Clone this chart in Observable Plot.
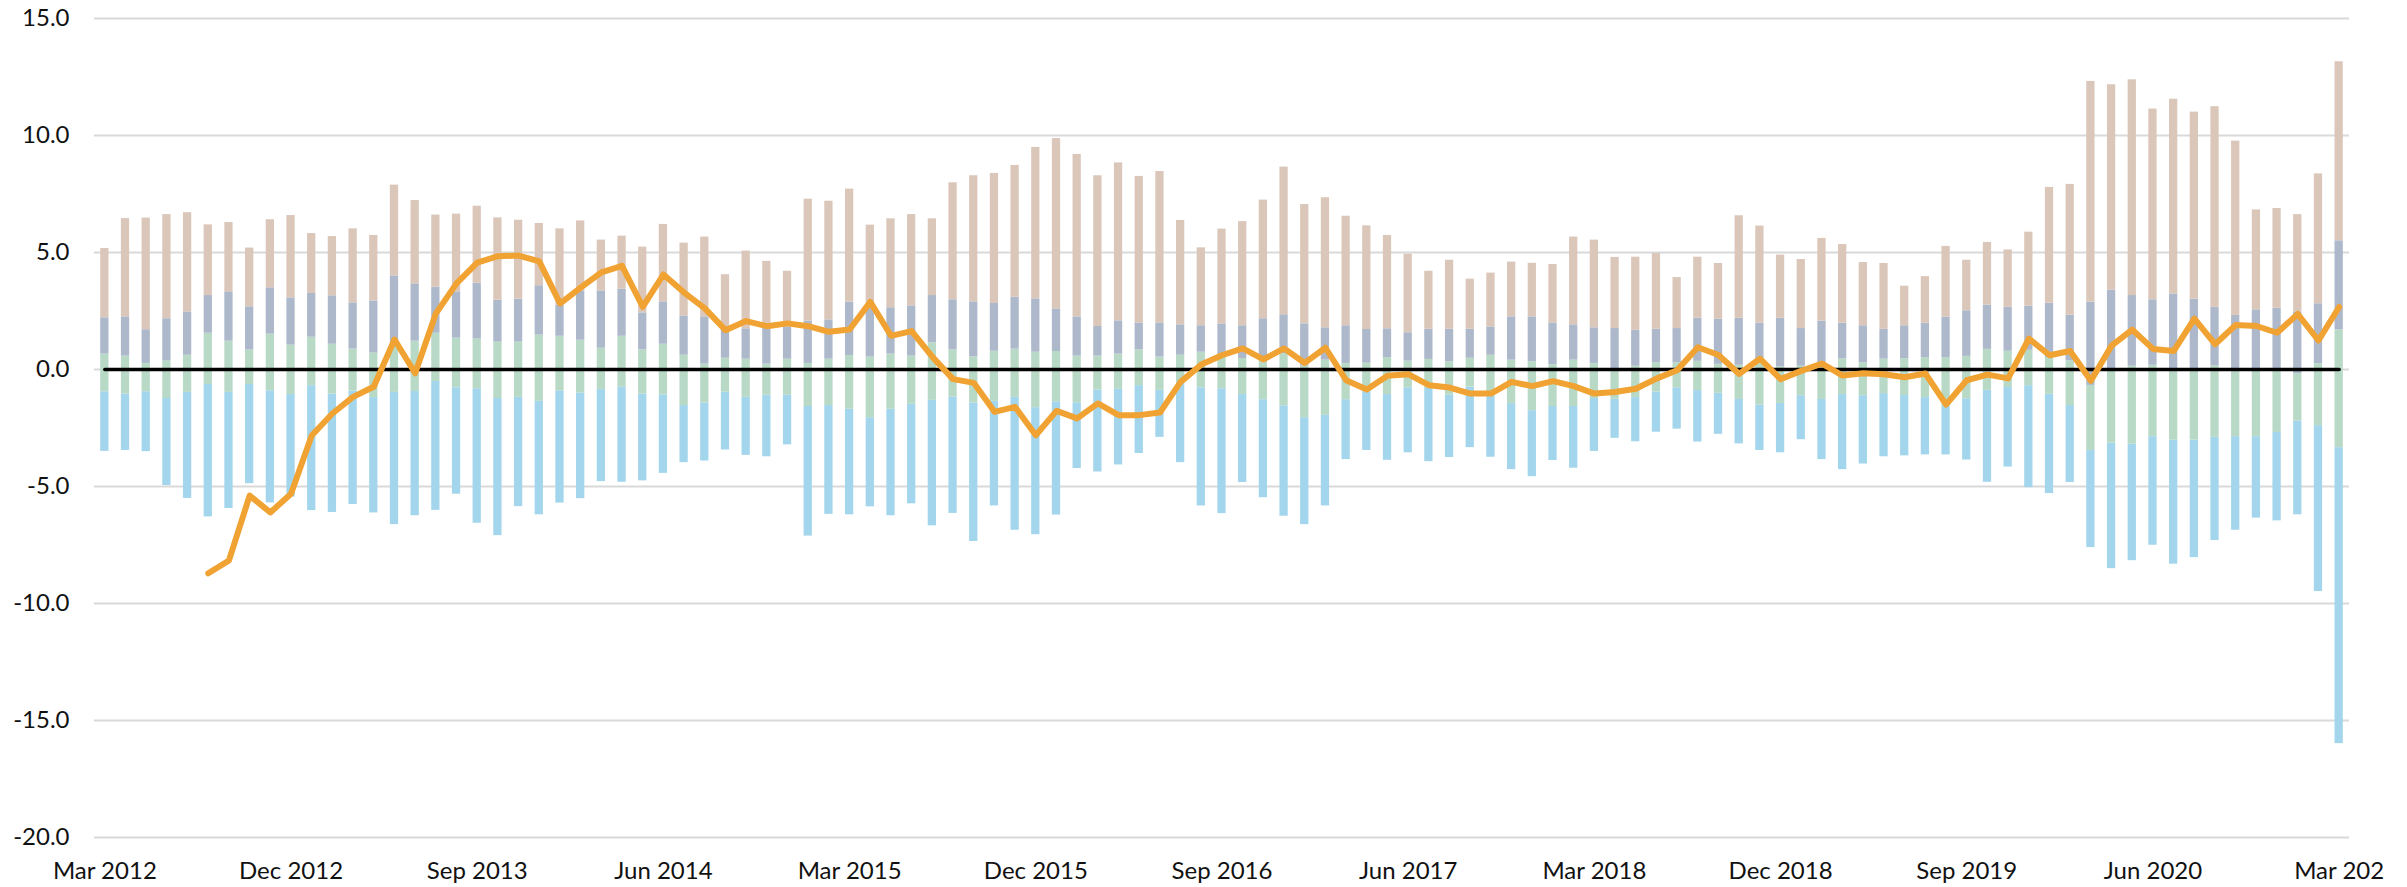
<!DOCTYPE html>
<html>
<head>
<meta charset="utf-8">
<script src="https://cdn.jsdelivr.net/npm/d3@7"></script>
<script src="https://cdn.jsdelivr.net/npm/@observablehq/plot@0.6"></script>
<style>
  html, body { margin: 0; padding: 0; background: #ffffff; }
  #chart { width: 2407px; height: 887px; overflow: hidden; }
</style>
</head>
<body>
<div id="chart"></div>
<script>
// Months Mar 2012 .. Mar 2021 (categories)
const months = d3.utcMonths(new Date(Date.UTC(2012, 2, 1)), new Date(Date.UTC(2021, 3, 1)))
  .map(d => d3.utcFormat("%Y-%m")(d));

// Labelled months and their text
const xTickMonths = ["2012-03","2012-12","2013-09","2014-06","2015-03","2015-12","2016-09",
                     "2017-06","2018-03","2018-12","2019-09","2020-06","2021-03"];
const xTickLabels = ["Mar 2012","Dec 2012","Sep 2013","Jun 2014","Mar 2015","Dec 2015","Sep 2016",
                     "Jun 2017","Mar 2018","Dec 2018","Sep 2019","Jun 2020","Mar 202"];
const yTicks = [-20, -15, -10, -5, 0, 5, 10, 15];

// Stack levels (bottom to top of each column)
const lightBlueBottom = [
  -3.50,-3.46,-3.51,-4.96,-5.51,-6.30,-5.94,-4.88,-5.70,-5.45,-6.03,-6.11,-5.77,-6.13,-6.63,-6.25,-6.02,-5.33,
  -6.57,-7.10,-5.86,-6.21,-5.71,-5.52,-4.79,-4.82,-4.76,-4.44,-3.98,-3.91,-3.44,-3.67,-3.73,-3.22,
  -7.12,-6.19,-6.21,-5.87,-6.25,-5.74,-6.68,-6.15,-7.35,-5.83,-6.87,-7.06,-6.22,-4.23,-4.38,-4.08,-3.59,-2.90,
  -3.98,-5.83,-6.16,-4.83,-5.48,-6.27,-6.63,-5.83,-3.85,-3.46,-3.88,-3.56,-3.94,-3.76,-3.34,-3.75,-4.28,-4.58,
  -3.89,-4.22,-3.50,
  -2.94,-3.09,-2.68,-2.55,-3.10,-2.77,-3.18,-3.46,-3.56,-3.00,-3.85,-4.28,-4.04,-3.73,-3.69,-3.65,-3.65,-3.87,
  -4.82,-4.17,-5.05,-5.30,-4.83,-7.61,-8.51,-8.17,-7.51,-8.32,-8.04,-7.31,-6.87,-6.35,-6.47,-6.21,-9.49,-15.99
];
const greenBottom = [
  -0.95,-1.05,-0.95,-1.24,-0.98,-0.64,-0.98,-0.64,-0.91,-1.07,-0.69,-1.05,-0.92,-1.20,-0.98,-0.94,-0.51,-0.78,
  -0.82,-1.24,-1.19,-1.36,-0.91,-1.00,-0.86,-0.76,-1.05,-1.08,-1.54,-1.43,-0.97,-1.19,-1.10,-1.10,
  -1.58,-1.54,-1.70,-2.06,-1.70,-1.49,-1.32,-1.17,-1.43,-1.36,-1.19,-1.63,-1.38,-1.42,-0.88,-0.85,-0.69,-0.89,
  -0.56,-0.78,-0.82,-1.07,-1.29,-1.55,-2.06,-1.96,-1.29,-0.95,-1.07,-0.78,-0.81,-1.10,-0.75,-1.14,-1.46,-1.76,
  -1.58,-1.58,-1.24,
  -1.27,-1.20,-0.96,-0.78,-0.90,-1.02,-1.28,-1.52,-1.45,-1.12,-1.28,-1.07,-1.12,-1.03,-1.11,-1.20,-1.58,-1.25,
  -0.89,-0.77,-0.69,-1.06,-1.54,-3.46,-3.15,-3.19,-2.87,-3.02,-3.02,-2.90,-2.87,-2.87,-2.69,-2.20,-2.40,-3.34
];
const greenTop = [
  0.66,0.57,0.26,0.36,0.61,1.55,1.21,0.83,1.51,1.04,1.38,1.08,0.87,0.70,0.97,1.21,1.55,1.34,
  1.30,1.17,1.17,1.47,1.42,1.25,0.91,1.42,0.84,1.08,0.61,0.23,0.48,0.44,0.23,0.44,
  0.26,0.44,0.60,0.53,0.66,0.57,1.14,0.84,0.54,0.78,0.87,0.74,0.77,0.57,0.57,0.66,0.84,0.53,
  0.61,0.74,0.54,0.47,0.40,0.68,0.15,0.40,0.26,0.27,0.51,0.36,0.43,0.33,0.48,0.61,0.40,0.33,
  0.21,0.40,0.26,
  0.04,0.14,0.29,0.29,0.35,0.22,0.18,0.25,0.11,0.14,0.25,0.46,0.29,0.44,0.46,0.51,0.51,0.56,
  0.86,0.78,0.82,0.51,0.37,-0.68,-0.08,0.14,0.18,-0.08,-0.05,0.15,-0.05,-0.05,-0.05,-0.18,0.25,1.70
];
const greyTop = [
  2.21,2.25,1.70,2.17,2.46,3.16,3.32,2.68,3.49,3.06,3.25,3.15,2.85,2.93,4.00,3.66,3.52,3.32,
  3.69,2.96,3.01,3.58,2.75,3.36,3.36,3.43,2.42,2.89,2.29,2.25,1.75,1.74,1.97,1.82,
  2.07,2.12,2.88,2.82,2.64,2.72,3.16,2.98,2.89,2.82,3.09,3.02,2.59,2.25,1.84,2.08,1.99,1.99,
  1.91,1.87,1.95,1.87,2.17,2.34,1.95,1.78,1.87,1.71,1.74,1.57,1.72,1.72,1.72,1.82,2.25,2.25,
  1.99,1.91,1.78,
  1.75,1.68,1.72,1.75,2.19,2.15,2.19,1.98,2.19,1.75,2.07,1.98,1.87,1.72,1.87,1.98,2.24,2.51,
  2.75,2.66,2.71,2.83,2.32,2.88,3.39,3.16,2.98,3.23,3.01,2.66,2.31,2.55,2.62,2.46,2.81,5.50
];
const tanTop = [
  5.17,6.45,6.47,6.62,6.70,6.18,6.28,5.19,6.40,6.58,5.81,5.68,6.01,5.73,7.88,7.22,6.60,6.64,
  6.98,6.48,6.38,6.24,6.01,6.35,5.53,5.70,5.23,6.20,5.40,5.66,4.05,5.06,4.62,4.20,
  7.28,7.19,7.71,6.17,6.44,6.62,6.44,7.98,8.28,8.38,8.72,9.49,9.87,9.19,8.28,8.83,8.25,8.46,
  6.37,5.20,6.00,6.32,7.24,8.65,7.05,7.34,6.55,6.14,5.73,4.93,4.20,4.67,3.86,4.12,4.59,4.54,
  4.49,5.66,5.53,
  4.79,4.80,4.96,3.93,4.80,4.53,6.57,6.13,4.89,4.70,5.60,5.34,4.57,4.53,3.56,3.97,5.26,4.67,
  5.43,5.11,5.87,7.78,7.91,12.31,12.17,12.38,11.13,11.55,11.00,11.23,9.76,6.82,6.88,6.62,8.36,13.15
];
// Orange line series (starts Aug 2012)
const orangeLine = [
  null,null,null,null,null,-8.71,-8.16,-5.39,-6.11,-5.31,-2.82,-1.88,-1.17,-0.74,1.28,-0.16,2.39,3.68,
  4.57,4.84,4.87,4.62,2.82,3.50,4.15,4.43,2.68,4.06,3.29,2.61,1.68,2.07,1.85,1.97,
  1.85,1.61,1.71,2.89,1.44,1.64,0.54,-0.41,-0.57,-1.81,-1.60,-2.81,-1.77,-2.09,-1.45,-1.95,-1.95,-1.84,
  -0.53,0.21,0.61,0.90,0.43,0.90,0.28,0.93,-0.46,-0.85,-0.27,-0.20,-0.67,-0.77,-1.03,-1.03,-0.53,-0.71,
  -0.50,-0.71,-1.03,
  -0.96,-0.82,-0.39,-0.03,0.95,0.62,-0.19,0.46,-0.41,-0.06,0.25,-0.26,-0.16,-0.20,-0.33,-0.17,-1.50,-0.46,
  -0.22,-0.38,1.32,0.61,0.79,-0.48,1.02,1.70,0.88,0.79,2.17,1.08,1.90,1.86,1.57,2.37,1.24,2.67
];

const colors = {lightBlue: "#a3d6ec", green: "#b8d9c6", grey: "#adb8cb", tan: "#dbc7ba", line: "#f0a232"};

function segments(lo, hi) {
  return months.map((m, i) => ({month: m, y1: lo[i], y2: hi[i]}));
}
const labelOf = new Map(xTickMonths.map((m, i) => [m, xTickLabels[i]]));
const lineData = months.map((m, i) => ({month: m, v: orangeLine[i]})).filter(d => d.v !== null);

const chart = Plot.plot({
  width: 2407,
  height: 887,
  marginLeft: 94,
  marginRight: 58,
  marginTop: 18,
  marginBottom: 50,
  style: {fontFamily: "Lato, 'Open Sans', sans-serif", fontSize: "24px", color: "#111", background: "#ffffff", overflow: "visible"},
  x: {
    type: "band",
    domain: months,
    paddingInner: 0.6,
    paddingOuter: 0.3,
    ticks: xTickMonths,
    tickFormat: d => labelOf.get(d) ?? "",
    tickSize: 0,
    tickPadding: 24,
    label: null
  },
  y: {
    domain: [-20, 15],
    ticks: yTicks,
    tickFormat: d => d.toFixed(1),
    tickSize: 0,
    tickPadding: 25,
    label: null
  },
  marks: [
    Plot.ruleY(yTicks, {stroke: "#d9d9d9", strokeWidth: 2}),
    Plot.barY(segments(lightBlueBottom, greenBottom), {x: "month", y1: "y1", y2: "y2", fill: colors.lightBlue}),
    Plot.barY(segments(greenBottom, greenTop), {x: "month", y1: "y1", y2: "y2", fill: colors.green}),
    Plot.barY(segments(greenTop, greyTop), {x: "month", y1: "y1", y2: "y2", fill: colors.grey}),
    Plot.barY(segments(greyTop, tanTop), {x: "month", y1: "y1", y2: "y2", fill: colors.tan}),
    Plot.line(months, {x: d => d, y: () => 0, stroke: "#000", strokeWidth: 3.5}),
    Plot.line(lineData, {x: "month", y: "v", stroke: colors.line, strokeWidth: 6, strokeLinejoin: "round", strokeLinecap: "round"})
  ]
});
document.getElementById("chart").appendChild(chart);
</script>
</body>
</html>
